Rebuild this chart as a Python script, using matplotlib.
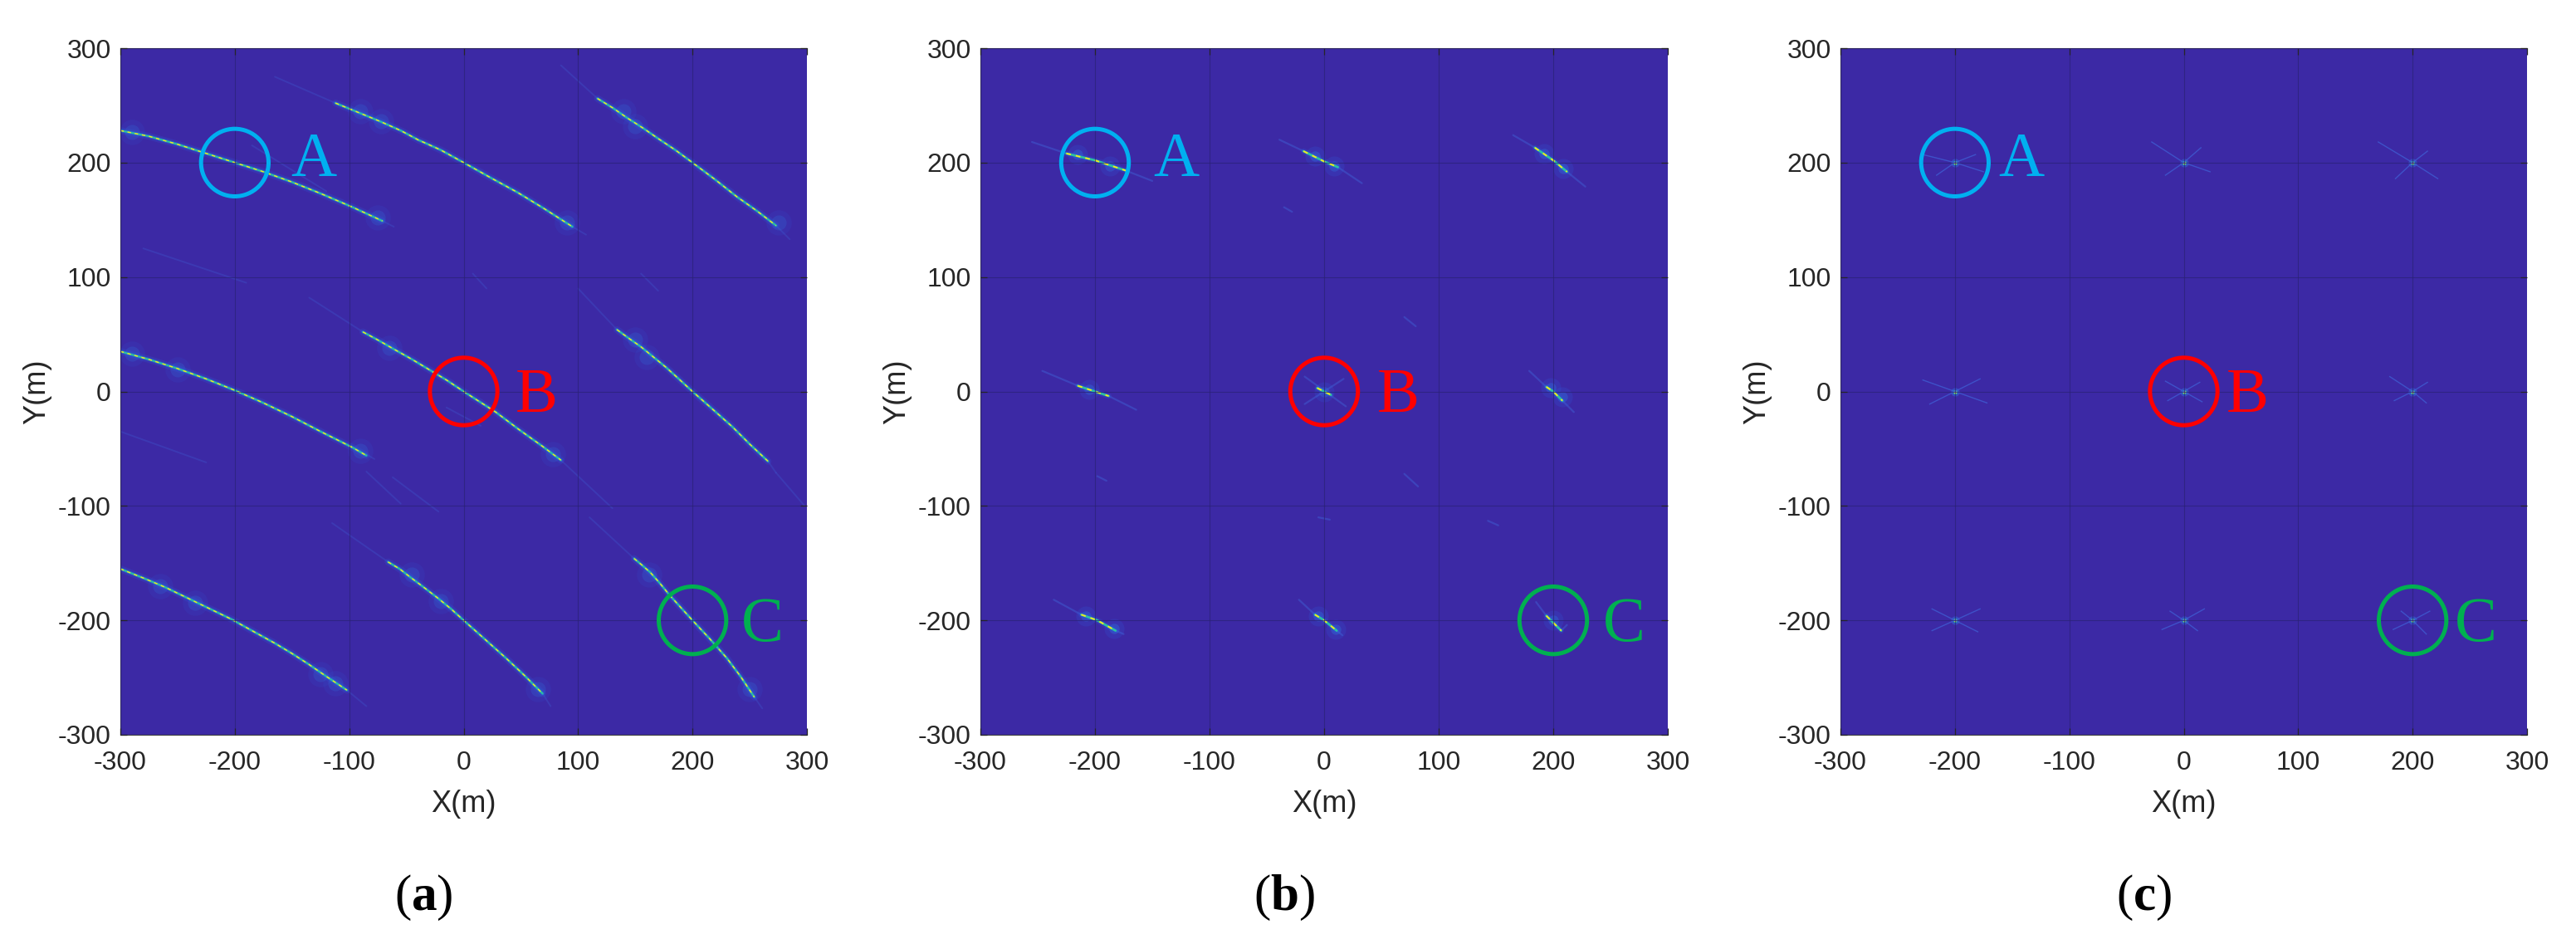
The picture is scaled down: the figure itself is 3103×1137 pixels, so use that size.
import matplotlib
matplotlib.use("Agg")
import matplotlib.pyplot as plt
from matplotlib.patches import Ellipse

plt.rcParams['font.family'] = ['Liberation Sans', 'DejaVu Sans']
plt.rcParams['mathtext.fontset'] = 'custom'
plt.rcParams['mathtext.bf'] = 'Liberation Serif:bold'
plt.rcParams['mathtext.rm'] = 'Liberation Serif'
plt.rcParams['axes.unicode_minus'] = False

W, H = 3103, 1137
BG = '#3c29a5'
TICKS = [-300, -200, -100, 0, 100, 200, 300]
PANEL_LABELS = ['a', 'b', 'c']

# ---------- panel (a): bright arcs ----------
arc_a1_x = [-300, -275, -250, -225, -200, -175, -150, -125, -97, -71]
arc_a1_y = [228, 223, 216, 208, 200, 192, 183, 173, 161, 149]
arc_a2_x = [-112, -90, -73, -55, -40, -20, 0, 25, 47, 70, 95]
arc_a2_y = [252, 243, 236, 228, 220, 211, 200, 186, 174, 160, 144]
arc_a3_x = [117, 130, 143, 157, 170, 185, 200, 220, 239, 256, 273]
arc_a3_y = [256, 248, 239, 230, 221, 211, 200, 185, 170, 158, 145]
arc_a4_x = [-300, -275, -250, -225, -200, -175, -150, -125, -97, -85]
arc_a4_y = [35, 28, 20, 11, 1, -10, -22, -35, -49, -56]
arc_a5_x = [-88, -75, -61, -45, -30, -15, 0, 14, 28, 48, 69, 85]
arc_a5_y = [52, 45, 37, 28, 19, 10, 0, -9, -18, -33, -48, -60]
arc_a6_x = [134, 145, 155, 166, 177, 188, 200, 217, 235, 250, 266]
arc_a6_y = [54, 46, 39, 30, 21, 11, 0, -15, -31, -46, -61]
arc_a7_x = [-300, -280, -261, -232, -203, -185, -165, -150, -136, -120, -102]
arc_a7_y = [-155, -163, -171, -185, -199, -209, -220, -229, -238, -249, -261]
arc_a8_x = [-66, -56, -47, -35, -22, -11, 0, 18, 37, 53, 69]
arc_a8_y = [-149, -155, -162, -171, -181, -190, -200, -216, -233, -248, -264]
arc_a9_x = [149, 155, 163, 171, 180, 190, 200, 215, 230, 242, 254]
arc_a9_y = [-146, -151, -158, -167, -178, -189, -200, -216, -233, -249, -267]

arcs_a = [(arc_a1_x, arc_a1_y), (arc_a2_x, arc_a2_y), (arc_a3_x, arc_a3_y),
          (arc_a4_x, arc_a4_y), (arc_a5_x, arc_a5_y), (arc_a6_x, arc_a6_y),
          (arc_a7_x, arc_a7_y), (arc_a8_x, arc_a8_y), (arc_a9_x, arc_a9_y)]

# faint continuation of the arcs
tails_a = [
    ([-71, -61], [149, 144]), ([-165, -112], [275, 252]), ([95, 107], [144, 137]),
    ([85, 117], [285, 256]), ([273, 285], [145, 133]), ([-85, -78], [-55, -59]),
    ([-135, -88], [82, 52]), ([85, 130], [-60, -102]), ([100, 134], [90, 54]),
    ([266, 273], [-61, -71]), ([273, 298], [-71, -100]), ([-102, -85], [-261, -275]),
    ([-115, -66], [-115, -149]), ([69, 76], [-264, -275]), ([110, 149], [-110, -146]),
    ([254, 261], [-267, -277]), ([-185, -120], [215, 175]), ([-280, -190], [125, 95]),
    ([8, 20], [103, 90]), ([155, 170], [103, 88]), ([-300, -225], [-35, -62]),
    ([-62, -22], [-75, -105]), ([-15, 15], [-14, -30]), ([-85, -55], [-70, -98]),
]

# fuzzy side-lobe spots along the arcs
fuzz_a_x = [-290, -90, -72, 140, 150, 90, 275, -75, -290, -250, -90,
            -65, 78, 150, 160, -265, -235, -112, -45, -20, 65, 162, 250, -125]
fuzz_a_y = [227, 245, 236, 245, 232, 148, 148, 152, 33, 19, -52,
            38, -55, 45, 30, -170, -185, -255, -160, -183, -260, -160, -260, -247]

# ---------- panel (b): short streaks ----------
streaks_b = [
    ([-225, -200, -173], [208, 202, 193]), ([-18, 0, 12], [210, 201, 196]),
    ([184, 200, 212], [213, 202, 192]), ([-215, -200, -188], [5, 0, -4]),
    ([-6, 0, 6], [3, 0, -3]), ([194, 200, 208], [4, 0, -8]),
    ([-212, -198, -182], [-195, -200, -209]), ([-8, 0, 11], [-195, -200, -209]),
    ([194, 200, 207], [-196, -202, -209]),
]
faint_b = [
    ([-255, -225], [218, 208]), ([-173, -150], [193, 184]), ([-39, -18], [220, 210]),
    ([12, 33], [196, 182]), ([165, 184], [224, 213]), ([212, 228], [192, 179]),
    ([-246, -215], [18, 5]), ([-188, -164], [-4, -16]), ([179, 194], [18, 4]),
    ([208, 218], [-8, -18]), ([-236, -212], [-182, -195]), ([-182, -175], [-209, -212]),
    ([-22, -8], [-182, -195]), ([11, 16], [-209, -213]), ([185, 194], [-184, -196]),
    ([-17, 19], [13, -13]), ([-17, 17], [-11, 11]), ([207, 212], [-209, -204]),
    ([-35, -28], [161, 157]), ([-198, -190], [-74, -78]), ([70, 82], [-72, -83]),
    ([70, 80], [65, 57]), ([143, 152], [-113, -117]), ([-5, 5], [-110, -112]),
]
fuzz_b_x = [-215, -187, -8, 9, 192, 209, -205, 0, 198, 208, -208, -183, -5, 10, 200]
fuzz_b_y = [207, 197, 206, 197, 208, 195, 2, 0, 3, -5, -196, -207, -196, -208, -200]

# ---------- panel (c): X-shaped responses ----------
arms_c = [
    ([-228, -200, -175], [207, 200, 192]), ([-216, -200, -182], [189, 200, 207]),
    ([-28, 0, 23], [218, 200, 192]), ([-16, 0, 15], [189, 200, 213]),
    ([170, 200, 222], [218, 200, 186]), ([185, 200, 213], [186, 200, 210]),
    ([-228, -200, -172], [10, 0, -10]), ([-222, -200, -178], [-11, 0, 11]),
    ([-16, 0, 16], [9, 0, -9]), ([-14, 0, 14], [-8, 0, 8]),
    ([180, 200, 212], [13, 0, -10]), ([184, 200, 213], [-8, 0, 8]),
    ([-220, -200, -180], [-190, -200, -210]), ([-220, -200, -178], [-209, -200, -190]),
    ([-12, 0, 12], [-192, -200, -209]), ([-19, 0, 18], [-208, -200, -190]),
    ([190, 200, 212], [-192, -200, -212]), ([183, 200, 215], [-208, -200, -192]),
]
peaks_c_x = [-200, 0, 200, -200, 0, 200, -200, 0, 200]
peaks_c_y = [200, 200, 200, 0, 0, 0, -200, -200, -200]

# ---------- annotations ----------
circle_r = 29.5
circle_cx = [-200, 0, 200]
circle_cy = [200, 0, -200]
circle_col = ['#00b0f0', '#ff0000', '#00b050']
letters = ['A', 'B', 'C']
letter_x = {'a': [-131, 64, 261], 'b': [-129, 65, 262], 'c': [-142, 56, 255]}
letter_y = [188, -18, -218]

# axes boxes in pixels: left, right
boxes = {'a': (145, 972), 'b': (1181, 2009), 'c': (2217, 3044)}
TOP, BOTTOM = 58, 885

fig = plt.figure(figsize=(W / 100, H / 100), dpi=100, facecolor='white')


def bright(ax, x, y, core=1.2, haze=6):
    ax.plot(x, y, color='#2f62e6', lw=haze, alpha=0.2, solid_capstyle='round')
    ax.plot(x, y, color='#1f8fe0', lw=haze * 0.45, alpha=0.5, solid_capstyle='round')
    ax.plot(x, y, color='#2cc2a0', lw=core * 1.15, solid_capstyle='round', solid_joinstyle='round')
    ax.plot(x, y, color='#f6e61e', lw=core * 0.85, ls=(0, (3, 3.2)), solid_capstyle='butt')


def faint(ax, x, y, lw=1.4, alpha=0.28):
    ax.plot(x, y, color='#3f63d8', lw=lw, alpha=alpha, solid_capstyle='round')


for key in PANEL_LABELS:
    l, r = boxes[key]
    ax = fig.add_axes([l / W, 1 - BOTTOM / H, (r - l) / W, (BOTTOM - TOP) / H], facecolor=BG)

    if key == 'a':
        ax.scatter(fuzz_a_x, fuzz_a_y, s=480, color='#2f5fe0', alpha=0.13, lw=0)
        ax.scatter(fuzz_a_x, fuzz_a_y, s=170, color='#2f7fe8', alpha=0.2, lw=0)
        for x, y in tails_a:
            faint(ax, x, y)
        for x, y in arcs_a:
            bright(ax, x, y)
    elif key == 'b':
        for x, y in faint_b:
            faint(ax, x, y, lw=1.6, alpha=0.45)
        ax.scatter(fuzz_b_x, fuzz_b_y, s=300, color='#2f5fe0', alpha=0.2, lw=0)
        ax.scatter(fuzz_b_x, fuzz_b_y, s=80, color='#2f7fe8', alpha=0.3, lw=0)
        for x, y in streaks_b:
            bright(ax, x, y, core=1.6, haze=5)
    else:
        for x, y in arms_c:
            ax.plot(x, y, color='#3f63d8', lw=1.0, alpha=0.7)
        ax.scatter(peaks_c_x, peaks_c_y, s=55, color='#2f7fe8', alpha=0.4, lw=0)
        ax.scatter(peaks_c_x, peaks_c_y, s=14, color='#2cc2a0', lw=0)
        ax.scatter(peaks_c_x, peaks_c_y, s=5, color='#f6e61e', lw=0)

    ax.set_xlim(-300, 300)
    ax.set_ylim(-300, 300)
    ax.set_xticks(TICKS)
    ax.set_yticks(TICKS)
    ax.grid(True, color='#2a2275', lw=0.8, alpha=0.7)
    ax.set_axisbelow(False)
    ax.tick_params(axis='both', direction='in', top=True, right=True, length=6,
                   width=0.9, color='#262626', labelsize=23, labelcolor='#262626')
    ax.tick_params(axis='x', pad=14)
    ax.tick_params(axis='y', pad=8)
    for s in ax.spines.values():
        s.set_color('#404040')
        s.set_linewidth(0.8)
    ax.spines['right'].set_visible(False)

    ax.set_xlabel('X(m)', fontsize=26, color='#262626', va='center')
    ax.set_ylabel('Y(m)', fontsize=26, color='#262626', va='center', rotation=90)
    ax.xaxis.set_label_coords(0.5, -(968 - BOTTOM) / (BOTTOM - TOP))
    ax.yaxis.set_label_coords(-100 / (r - l), 0.5)

    for cx, cy, col, txt, tx, ty in zip(circle_cx, circle_cy, circle_col, letters,
                                        letter_x[key], letter_y):
        ax.add_patch(Ellipse((cx, cy), 2 * circle_r, 2 * circle_r, fill=False,
                             edgecolor=col, lw=3.6, zorder=5))
        ax.text(tx, ty, txt, color=col, fontsize=55, family='Liberation Serif',
                ha='center', va='baseline', zorder=5)

    fig.text((l + r) / 2 / W - 48 / W, 1 - 1081 / H, r'($\mathbf{' + key + r'}$)',
             fontsize=44, family='Liberation Serif', color='black',
             ha='center', va='center')

fig.savefig('out.png', dpi=100)
